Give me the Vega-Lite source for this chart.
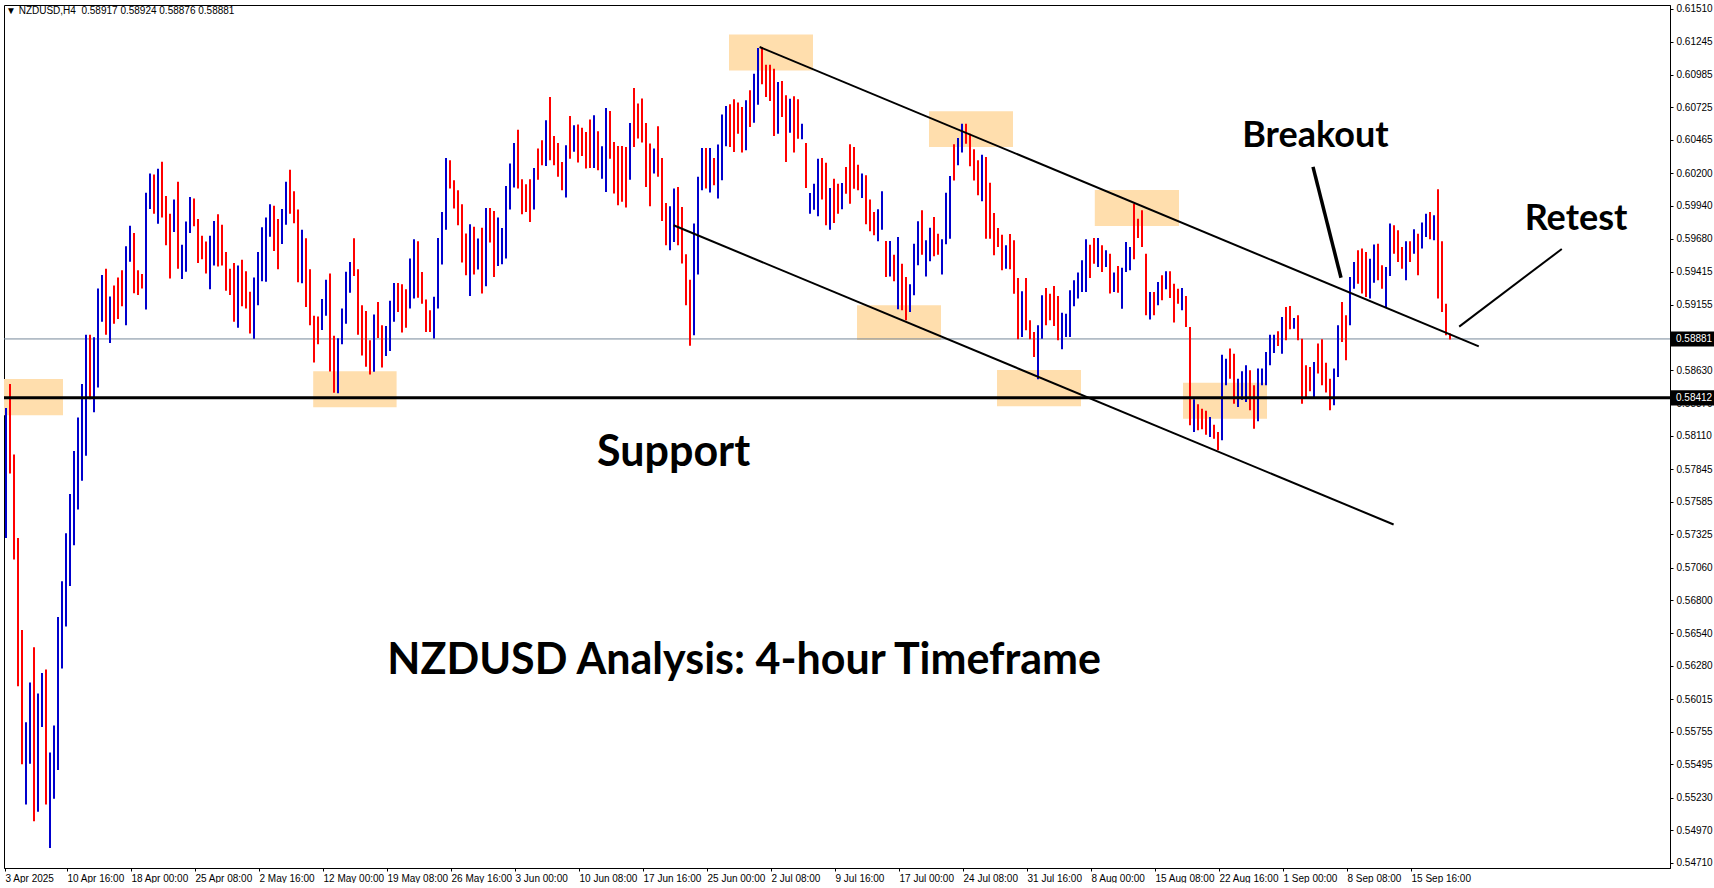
{
"$schema":"https://vega.github.io/schema/vega-lite/v6.json",
"width":1666,"height":863,
"padding":{"left":2,"top":3,"right":0,"bottom":0},
"autosize":{"type":"pad"},
"background":"white",
"config":{"view":{"stroke":"black","strokeWidth":1},"axis":{"labelFont":"Liberation Sans","labelFontSize":10,"labelColor":"black","domainColor":"black","tickColor":"black","grid":false,"labelOverlap":false,"labelFlush":false}},
"datasets":{
"bars":[
{"i":0,"h":0.58331,"l":0.57296,"d":"u"},{"i":1,"h":0.58522,"l":0.5781,"d":"d"},{"i":2,"h":0.57962,"l":0.57125,"d":"d"},{"i":3,"h":0.57296,"l":0.56116,"d":"d"},{"i":4,"h":0.56565,"l":0.55495,"d":"d"},{"i":5,"h":0.5583,"l":0.55175,"d":"u"},{"i":6,"h":0.56146,"l":0.55499,"d":"u"},{"i":7,"h":0.56428,"l":0.55042,"d":"d"},{"i":8,"h":0.56059,"l":0.55118,"d":"u"},{"i":9,"h":0.56222,"l":0.55792,"d":"u"},
{"i":10,"h":0.56249,"l":0.55175,"d":"d"},{"i":11,"h":0.5559,"l":0.54829,"d":"u"},{"i":12,"h":0.55804,"l":0.55221,"d":"u"},{"i":13,"h":0.56668,"l":0.5545,"d":"u"},{"i":14,"h":0.56953,"l":0.56257,"d":"u"},{"i":15,"h":0.57334,"l":0.56592,"d":"u"},{"i":16,"h":0.57646,"l":0.56915,"d":"u"},{"i":17,"h":0.57989,"l":0.57239,"d":"u"},{"i":18,"h":0.58255,"l":0.57524,"d":"u"},{"i":19,"h":0.58522,"l":0.57753,"d":"u"},
{"i":20,"h":0.58914,"l":0.57951,"d":"u"},{"i":21,"h":0.58914,"l":0.584,"d":"d"},{"i":22,"h":0.58895,"l":0.58297,"d":"u"},{"i":23,"h":0.59283,"l":0.58495,"d":"u"},{"i":24,"h":0.5939,"l":0.59017,"d":"u"},{"i":25,"h":0.59439,"l":0.58914,"d":"d"},{"i":26,"h":0.59218,"l":0.58849,"d":"u"},{"i":27,"h":0.59306,"l":0.59001,"d":"d"},{"i":28,"h":0.59371,"l":0.5904,"d":"d"},{"i":29,"h":0.59428,"l":0.59142,"d":"d"},
{"i":30,"h":0.59618,"l":0.5899,"d":"u"},{"i":31,"h":0.59782,"l":0.59496,"d":"u"},{"i":32,"h":0.59725,"l":0.59245,"d":"d"},{"i":33,"h":0.59428,"l":0.5923,"d":"d"},{"i":34,"h":0.59397,"l":0.59283,"d":"d"},{"i":35,"h":0.60045,"l":0.59116,"d":"u"},{"i":36,"h":0.60197,"l":0.59915,"d":"u"},{"i":37,"h":0.60189,"l":0.59877,"d":"d"},{"i":38,"h":0.60235,"l":0.59797,"d":"u"},{"i":39,"h":0.60292,"l":0.59847,"d":"d"},
{"i":40,"h":0.60018,"l":0.59626,"d":"d"},{"i":41,"h":0.59877,"l":0.59363,"d":"d"},{"i":42,"h":0.59991,"l":0.59732,"d":"u"},{"i":43,"h":0.60132,"l":0.59439,"d":"d"},{"i":44,"h":0.5963,"l":0.59359,"d":"u"},{"i":45,"h":0.59816,"l":0.59416,"d":"u"},{"i":46,"h":0.6001,"l":0.59725,"d":"u"},{"i":47,"h":0.59999,"l":0.59778,"d":"d"},{"i":48,"h":0.59835,"l":0.59485,"d":"d"},{"i":49,"h":0.59702,"l":0.59515,"d":"d"},
{"i":50,"h":0.59656,"l":0.59401,"d":"d"},{"i":51,"h":0.59702,"l":0.59276,"d":"u"},{"i":52,"h":0.5982,"l":0.59466,"d":"u"},{"i":53,"h":0.59873,"l":0.59458,"d":"d"},{"i":54,"h":0.5979,"l":0.59466,"d":"d"},{"i":55,"h":0.59573,"l":0.59264,"d":"d"},{"i":56,"h":0.59439,"l":0.5923,"d":"d"},{"i":57,"h":0.59485,"l":0.59017,"d":"d"},{"i":58,"h":0.59466,"l":0.58971,"d":"u"},{"i":59,"h":0.59512,"l":0.59142,"d":"d"},
{"i":60,"h":0.5942,"l":0.59123,"d":"d"},{"i":61,"h":0.59257,"l":0.58925,"d":"d"},{"i":62,"h":0.59371,"l":0.58883,"d":"u"},{"i":63,"h":0.59573,"l":0.5915,"d":"u"},{"i":64,"h":0.59771,"l":0.5934,"d":"u"},{"i":65,"h":0.59847,"l":0.59336,"d":"u"},{"i":66,"h":0.59953,"l":0.59694,"d":"u"},{"i":67,"h":0.59942,"l":0.5958,"d":"d"},{"i":68,"h":0.59835,"l":0.59435,"d":"d"},{"i":69,"h":0.59915,"l":0.59637,"d":"u"},
{"i":70,"h":0.60132,"l":0.5979,"d":"u"},{"i":71,"h":0.60227,"l":0.59877,"d":"d"},{"i":72,"h":0.60056,"l":0.59801,"d":"d"},{"i":73,"h":0.59911,"l":0.59333,"d":"d"},{"i":74,"h":0.59751,"l":0.59325,"d":"u"},{"i":75,"h":0.59683,"l":0.59135,"d":"d"},{"i":76,"h":0.59435,"l":0.5899,"d":"d"},{"i":77,"h":0.59066,"l":0.58693,"d":"d"},{"i":78,"h":0.59059,"l":0.58838,"d":"d"},{"i":79,"h":0.59199,"l":0.58952,"d":"u"},
{"i":80,"h":0.59352,"l":0.59066,"d":"u"},{"i":81,"h":0.59401,"l":0.58621,"d":"d"},{"i":82,"h":0.58906,"l":0.58453,"d":"d"},{"i":83,"h":0.58887,"l":0.58449,"d":"u"},{"i":84,"h":0.59123,"l":0.58838,"d":"u"},{"i":85,"h":0.59416,"l":0.59001,"d":"u"},{"i":86,"h":0.59493,"l":0.59249,"d":"u"},{"i":87,"h":0.59683,"l":0.59382,"d":"d"},{"i":88,"h":0.59435,"l":0.58914,"d":"d"},{"i":89,"h":0.5915,"l":0.5875,"d":"d"},
{"i":90,"h":0.59104,"l":0.58659,"d":"d"},{"i":91,"h":0.5887,"l":0.58598,"d":"d"},{"i":92,"h":0.59075,"l":0.58619,"d":"u"},{"i":93,"h":0.59176,"l":0.58889,"d":"d"},{"i":94,"h":0.5899,"l":0.58653,"d":"d"},{"i":95,"h":0.58985,"l":0.58746,"d":"u"},{"i":96,"h":0.59184,"l":0.58786,"d":"u"},{"i":97,"h":0.59327,"l":0.59017,"d":"u"},{"i":98,"h":0.59327,"l":0.59096,"d":"d"},{"i":99,"h":0.59316,"l":0.58932,"d":"d"},
{"i":100,"h":0.59277,"l":0.58971,"d":"d"},{"i":101,"h":0.59521,"l":0.59123,"d":"u"},{"i":102,"h":0.59674,"l":0.59202,"d":"u"},{"i":103,"h":0.59659,"l":0.59208,"d":"d"},{"i":104,"h":0.59414,"l":0.59162,"d":"d"},{"i":105,"h":0.59194,"l":0.58937,"d":"d"},{"i":106,"h":0.59109,"l":0.58937,"d":"d"},{"i":107,"h":0.59216,"l":0.58884,"d":"u"},{"i":108,"h":0.59685,"l":0.59123,"d":"u"},{"i":109,"h":0.59892,"l":0.59473,"d":"u"},
{"i":110,"h":0.60322,"l":0.59751,"d":"u"},{"i":111,"h":0.60303,"l":0.60078,"d":"d"},{"i":112,"h":0.60144,"l":0.59919,"d":"d"},{"i":113,"h":0.60064,"l":0.59786,"d":"d"},{"i":114,"h":0.59953,"l":0.59489,"d":"d"},{"i":115,"h":0.5972,"l":0.59388,"d":"d"},{"i":116,"h":0.59794,"l":0.59223,"d":"u"},{"i":117,"h":0.59773,"l":0.59393,"d":"d"},{"i":118,"h":0.5968,"l":0.59433,"d":"u"},{"i":119,"h":0.59767,"l":0.59242,"d":"d"},
{"i":120,"h":0.59924,"l":0.593,"d":"u"},{"i":121,"h":0.59924,"l":0.59648,"d":"d"},{"i":122,"h":0.599,"l":0.59375,"d":"d"},{"i":123,"h":0.59847,"l":0.59462,"d":"u"},{"i":124,"h":0.59765,"l":0.59475,"d":"u"},{"i":125,"h":0.60099,"l":0.59521,"d":"u"},{"i":126,"h":0.60277,"l":0.59911,"d":"u"},{"i":127,"h":0.60441,"l":0.60086,"d":"u"},{"i":128,"h":0.60547,"l":0.60078,"d":"d"},{"i":129,"h":0.60152,"l":0.59873,"d":"d"},
{"i":130,"h":0.60112,"l":0.59892,"d":"d"},{"i":131,"h":0.60152,"l":0.59812,"d":"d"},{"i":132,"h":0.60242,"l":0.59911,"d":"u"},{"i":133,"h":0.60396,"l":0.60149,"d":"d"},{"i":134,"h":0.60462,"l":0.60263,"d":"d"},{"i":135,"h":0.60622,"l":0.60258,"d":"u"},{"i":136,"h":0.60807,"l":0.60303,"d":"d"},{"i":137,"h":0.60497,"l":0.60263,"d":"d"},{"i":138,"h":0.60441,"l":0.60171,"d":"d"},{"i":139,"h":0.6029,"l":0.60064,"d":"d"},
{"i":140,"h":0.60423,"l":0.60006,"d":"u"},{"i":141,"h":0.60656,"l":0.60316,"d":"d"},{"i":142,"h":0.60582,"l":0.6037,"d":"u"},{"i":143,"h":0.60587,"l":0.60285,"d":"d"},{"i":144,"h":0.60561,"l":0.60338,"d":"d"},{"i":145,"h":0.60529,"l":0.60237,"d":"d"},{"i":146,"h":0.60627,"l":0.60242,"d":"d"},{"i":147,"h":0.60661,"l":0.60242,"d":"u"},{"i":148,"h":0.60534,"l":0.60224,"d":"d"},{"i":149,"h":0.60415,"l":0.60157,"d":"u"},
{"i":150,"h":0.6072,"l":0.60051,"d":"u"},{"i":151,"h":0.60696,"l":0.60316,"d":"d"},{"i":152,"h":0.60449,"l":0.60038,"d":"d"},{"i":153,"h":0.60417,"l":0.59945,"d":"d"},{"i":154,"h":0.60417,"l":0.59972,"d":"d"},{"i":155,"h":0.60409,"l":0.59927,"d":"d"},{"i":156,"h":0.606,"l":0.60149,"d":"u"},{"i":157,"h":0.60879,"l":0.60409,"d":"d"},{"i":158,"h":0.60754,"l":0.60476,"d":"d"},{"i":159,"h":0.60794,"l":0.60444,"d":"d"},
{"i":160,"h":0.606,"l":0.60091,"d":"d"},{"i":161,"h":0.60436,"l":0.59937,"d":"d"},{"i":162,"h":0.60396,"l":0.60197,"d":"u"},{"i":163,"h":0.60574,"l":0.60171,"d":"d"},{"i":164,"h":0.60322,"l":0.5982,"d":"d"},{"i":165,"h":0.59964,"l":0.59627,"d":"d"},{"i":166,"h":0.59937,"l":0.59587,"d":"u"},{"i":167,"h":0.60078,"l":0.59653,"d":"u"},{"i":168,"h":0.60091,"l":0.59627,"d":"d"},{"i":169,"h":0.59932,"l":0.59481,"d":"d"},
{"i":170,"h":0.59555,"l":0.59149,"d":"d"},{"i":171,"h":0.59353,"l":0.58826,"d":"d"},{"i":172,"h":0.59799,"l":0.5891,"d":"u"},{"i":173,"h":0.60171,"l":0.59393,"d":"u"},{"i":174,"h":0.60401,"l":0.60064,"d":"u"},{"i":175,"h":0.60401,"l":0.60078,"d":"d"},{"i":176,"h":0.60401,"l":0.60046,"d":"u"},{"i":177,"h":0.60322,"l":0.60104,"d":"d"},{"i":178,"h":0.60428,"l":0.59998,"d":"u"},{"i":179,"h":0.60667,"l":0.60144,"d":"u"},
{"i":180,"h":0.60736,"l":0.60415,"d":"u"},{"i":181,"h":0.60749,"l":0.60409,"d":"d"},{"i":182,"h":0.60788,"l":0.60369,"d":"d"},{"i":183,"h":0.60762,"l":0.60515,"d":"d"},{"i":184,"h":0.60727,"l":0.60364,"d":"d"},{"i":185,"h":0.6078,"l":0.60382,"d":"u"},{"i":186,"h":0.6086,"l":0.60568,"d":"d"},{"i":187,"h":0.60992,"l":0.60602,"d":"u"},{"i":188,"h":0.61197,"l":0.60746,"d":"u"},{"i":189,"h":0.61205,"l":0.60908,"d":"d"},
{"i":190,"h":0.61064,"l":0.60807,"d":"d"},{"i":191,"h":0.61064,"l":0.60775,"d":"d"},{"i":192,"h":0.61032,"l":0.60496,"d":"d"},{"i":193,"h":0.60926,"l":0.60515,"d":"u"},{"i":194,"h":0.60934,"l":0.60648,"d":"d"},{"i":195,"h":0.6082,"l":0.60289,"d":"d"},{"i":196,"h":0.60793,"l":0.60523,"d":"u"},{"i":197,"h":0.60812,"l":0.60364,"d":"d"},{"i":198,"h":0.60788,"l":0.60475,"d":"d"},{"i":199,"h":0.60594,"l":0.6047,"d":"u"},
{"i":200,"h":0.60441,"l":0.60082,"d":"d"},{"i":201,"h":0.60043,"l":0.59878,"d":"u"},{"i":202,"h":0.60117,"l":0.5991,"d":"u"},{"i":203,"h":0.60316,"l":0.59857,"d":"u"},{"i":204,"h":0.60321,"l":0.5999,"d":"d"},{"i":205,"h":0.60284,"l":0.59785,"d":"d"},{"i":206,"h":0.60082,"l":0.59751,"d":"u"},{"i":207,"h":0.60157,"l":0.59804,"d":"d"},{"i":208,"h":0.60117,"l":0.59878,"d":"d"},{"i":209,"h":0.60122,"l":0.59913,"d":"u"},
{"i":210,"h":0.6025,"l":0.60037,"d":"d"},{"i":211,"h":0.6043,"l":0.59958,"d":"d"},{"i":212,"h":0.60409,"l":0.60077,"d":"d"},{"i":213,"h":0.60268,"l":0.60064,"d":"d"},{"i":214,"h":0.60197,"l":0.60003,"d":"u"},{"i":215,"h":0.60183,"l":0.59793,"d":"d"},{"i":216,"h":0.5999,"l":0.59738,"d":"d"},{"i":217,"h":0.59891,"l":0.59706,"d":"d"},{"i":218,"h":0.59913,"l":0.59658,"d":"u"},{"i":219,"h":0.60056,"l":0.59751,"d":"u"},
{"i":220,"h":0.59661,"l":0.59374,"d":"d"},{"i":221,"h":0.59661,"l":0.59379,"d":"u"},{"i":222,"h":0.59552,"l":0.5934,"d":"d"},{"i":223,"h":0.59692,"l":0.59117,"d":"u"},{"i":224,"h":0.5948,"l":0.59109,"d":"d"},{"i":225,"h":0.59374,"l":0.59029,"d":"d"},{"i":226,"h":0.59316,"l":0.59096,"d":"u"},{"i":227,"h":0.59639,"l":0.59228,"d":"u"},{"i":228,"h":0.59817,"l":0.59467,"d":"u"},{"i":229,"h":0.59905,"l":0.59552,"d":"d"},
{"i":230,"h":0.59666,"l":0.59379,"d":"u"},{"i":231,"h":0.59767,"l":0.59499,"d":"u"},{"i":232,"h":0.59852,"l":0.59539,"d":"d"},{"i":233,"h":0.59719,"l":0.59552,"d":"d"},{"i":234,"h":0.59674,"l":0.59393,"d":"u"},{"i":235,"h":0.60045,"l":0.59634,"d":"u"},{"i":236,"h":0.60178,"l":0.59679,"d":"u"},{"i":237,"h":0.6043,"l":0.60143,"d":"d"},{"i":238,"h":0.6048,"l":0.60263,"d":"u"},{"i":239,"h":0.60594,"l":0.60364,"d":"u"},
{"i":240,"h":0.60594,"l":0.60435,"d":"d"},{"i":241,"h":0.60515,"l":0.60255,"d":"d"},{"i":242,"h":0.6039,"l":0.60143,"d":"d"},{"i":243,"h":0.60303,"l":0.60024,"d":"d"},{"i":244,"h":0.60348,"l":0.59976,"d":"u"},{"i":245,"h":0.60329,"l":0.59679,"d":"d"},{"i":246,"h":0.60125,"l":0.59679,"d":"d"},{"i":247,"h":0.59883,"l":0.59547,"d":"d"},{"i":248,"h":0.59764,"l":0.59613,"d":"d"},{"i":249,"h":0.59711,"l":0.59427,"d":"d"},
{"i":250,"h":0.59626,"l":0.5944,"d":"u"},{"i":251,"h":0.59716,"l":0.59435,"d":"d"},{"i":252,"h":0.59666,"l":0.59241,"d":"d"},{"i":253,"h":0.59366,"l":0.58878,"d":"d"},{"i":254,"h":0.5926,"l":0.58897,"d":"u"},{"i":255,"h":0.59366,"l":0.5895,"d":"d"},{"i":256,"h":0.59029,"l":0.58878,"d":"d"},{"i":257,"h":0.58936,"l":0.58737,"d":"d"},{"i":258,"h":0.58989,"l":0.5856,"d":"u"},{"i":259,"h":0.59228,"l":0.58883,"d":"u"},
{"i":260,"h":0.59287,"l":0.58989,"d":"d"},{"i":261,"h":0.59241,"l":0.59029,"d":"d"},{"i":262,"h":0.59302,"l":0.58984,"d":"d"},{"i":263,"h":0.59223,"l":0.5887,"d":"d"},{"i":264,"h":0.5909,"l":0.58798,"d":"u"},{"i":265,"h":0.59082,"l":0.58897,"d":"u"},{"i":266,"h":0.59268,"l":0.58897,"d":"u"},{"i":267,"h":0.59348,"l":0.59141,"d":"u"},{"i":268,"h":0.59409,"l":0.59202,"d":"u"},{"i":269,"h":0.59507,"l":0.59255,"d":"u"},
{"i":270,"h":0.59674,"l":0.59255,"d":"u"},{"i":271,"h":0.59631,"l":0.59366,"d":"d"},{"i":272,"h":0.59685,"l":0.5948,"d":"d"},{"i":273,"h":0.59685,"l":0.59454,"d":"u"},{"i":274,"h":0.59626,"l":0.59414,"d":"d"},{"i":275,"h":0.59586,"l":0.59454,"d":"u"},{"i":276,"h":0.5956,"l":0.59242,"d":"d"},{"i":277,"h":0.59409,"l":0.59255,"d":"u"},{"i":278,"h":0.59462,"l":0.59249,"d":"d"},{"i":279,"h":0.59448,"l":0.59122,"d":"u"},
{"i":280,"h":0.59653,"l":0.59414,"d":"u"},{"i":281,"h":0.59613,"l":0.59427,"d":"u"},{"i":282,"h":0.59958,"l":0.59515,"d":"d"},{"i":283,"h":0.59838,"l":0.59685,"d":"d"},{"i":284,"h":0.59905,"l":0.59613,"d":"d"},{"i":285,"h":0.5956,"l":0.59069,"d":"d"},{"i":286,"h":0.59255,"l":0.59035,"d":"u"},{"i":287,"h":0.59255,"l":0.59069,"d":"d"},{"i":288,"h":0.59334,"l":0.59149,"d":"u"},{"i":289,"h":0.59387,"l":0.59188,"d":"d"},
{"i":290,"h":0.59419,"l":0.59276,"d":"u"},{"i":291,"h":0.59419,"l":0.59207,"d":"d"},{"i":292,"h":0.59321,"l":0.59011,"d":"d"},{"i":293,"h":0.59281,"l":0.59162,"d":"d"},{"i":294,"h":0.59287,"l":0.59109,"d":"u"},{"i":295,"h":0.59223,"l":0.58976,"d":"d"},{"i":296,"h":0.58976,"l":0.58194,"d":"d"},{"i":297,"h":0.58401,"l":0.58141,"d":"u"},{"i":298,"h":0.58361,"l":0.58154,"d":"d"},{"i":299,"h":0.58326,"l":0.58162,"d":"d"},
{"i":300,"h":0.5831,"l":0.58119,"d":"d"},{"i":301,"h":0.5826,"l":0.58101,"d":"u"},{"i":302,"h":0.58199,"l":0.58087,"d":"d"},{"i":303,"h":0.58141,"l":0.57995,"d":"d"},{"i":304,"h":0.58756,"l":0.58074,"d":"u"},{"i":305,"h":0.58724,"l":0.58512,"d":"u"},{"i":306,"h":0.58804,"l":0.58565,"d":"d"},{"i":307,"h":0.58764,"l":0.58366,"d":"d"},{"i":308,"h":0.58565,"l":0.5834,"d":"u"},{"i":309,"h":0.58623,"l":0.58398,"d":"u"},
{"i":310,"h":0.58671,"l":0.58379,"d":"u"},{"i":311,"h":0.58631,"l":0.58313,"d":"d"},{"i":312,"h":0.58512,"l":0.58167,"d":"d"},{"i":313,"h":0.58645,"l":0.58225,"d":"u"},{"i":314,"h":0.58645,"l":0.58512,"d":"u"},{"i":315,"h":0.58777,"l":0.58512,"d":"u"},{"i":316,"h":0.58915,"l":0.58671,"d":"u"},{"i":317,"h":0.58915,"l":0.58769,"d":"u"},{"i":318,"h":0.58942,"l":0.58825,"d":"d"},{"i":319,"h":0.59056,"l":0.58764,"d":"u"},
{"i":320,"h":0.59135,"l":0.5887,"d":"d"},{"i":321,"h":0.59143,"l":0.58958,"d":"d"},{"i":322,"h":0.59048,"l":0.58963,"d":"u"},{"i":323,"h":0.59069,"l":0.5887,"d":"d"},{"i":324,"h":0.58883,"l":0.58366,"d":"d"},{"i":325,"h":0.58671,"l":0.58406,"d":"d"},{"i":326,"h":0.58658,"l":0.58464,"d":"d"},{"i":327,"h":0.58698,"l":0.58406,"d":"u"},{"i":328,"h":0.58844,"l":0.58605,"d":"d"},{"i":329,"h":0.58878,"l":0.58512,"d":"d"},
{"i":330,"h":0.58692,"l":0.58454,"d":"d"},{"i":331,"h":0.58565,"l":0.58313,"d":"d"},{"i":332,"h":0.58645,"l":0.58353,"d":"u"},{"i":333,"h":0.58989,"l":0.58578,"d":"u"},{"i":334,"h":0.59175,"l":0.58857,"d":"d"},{"i":335,"h":0.59069,"l":0.58711,"d":"d"},{"i":336,"h":0.59374,"l":0.58989,"d":"u"},{"i":337,"h":0.59494,"l":0.59281,"d":"u"},{"i":338,"h":0.59586,"l":0.59321,"d":"d"},{"i":339,"h":0.596,"l":0.59242,"d":"d"},
{"i":340,"h":0.59573,"l":0.59215,"d":"d"},{"i":341,"h":0.5952,"l":0.59202,"d":"u"},{"i":342,"h":0.59632,"l":0.59329,"d":"u"},{"i":343,"h":0.59639,"l":0.59348,"d":"d"},{"i":344,"h":0.59467,"l":0.59281,"d":"d"},{"i":345,"h":0.59454,"l":0.59127,"d":"u"},{"i":346,"h":0.59799,"l":0.59382,"d":"u"},{"i":347,"h":0.59785,"l":0.5956,"d":"d"},{"i":348,"h":0.59746,"l":0.59494,"d":"d"},{"i":349,"h":0.59613,"l":0.5944,"d":"d"},
{"i":350,"h":0.59658,"l":0.59348,"d":"u"},{"i":351,"h":0.59658,"l":0.59494,"d":"d"},{"i":352,"h":0.59754,"l":0.5956,"d":"u"},{"i":353,"h":0.59719,"l":0.59387,"d":"d"},{"i":354,"h":0.59807,"l":0.596,"d":"u"},{"i":355,"h":0.59878,"l":0.59693,"d":"u"},{"i":356,"h":0.59892,"l":0.59674,"d":"d"},{"i":357,"h":0.59865,"l":0.59666,"d":"u"},{"i":358,"h":0.60072,"l":0.59202,"d":"d"},{"i":359,"h":0.59658,"l":0.59096,"d":"d"},
{"i":360,"h":0.59162,"l":0.5891,"d":"d"},{"i":361,"h":0.58924,"l":0.58876,"d":"d"}
],
"boxes":[
{"x1":-0.5,"x2":14.25,"p1":0.58563,"p2":0.58274},
{"x1":76.8,"x2":97.65,"p1":0.58624,"p2":0.58338},
{"x1":180.75,"x2":201.75,"p1":0.61304,"p2":0.61018},
{"x1":212.75,"x2":233.75,"p1":0.5915,"p2":0.58872},
{"x1":230.75,"x2":251.75,"p1":0.60694,"p2":0.60408},
{"x1":247.75,"x2":268.75,"p1":0.58633,"p2":0.58346},
{"x1":272.2,"x2":293.25,"p1":0.60066,"p2":0.59779},
{"x1":294.25,"x2":315.25,"p1":0.58532,"p2":0.58245}
],
"bid":[{"p":0.58881}],
"support":[{"p":0.58412}],
"channel":[
{"x1":188.4,"p1":0.61205,"x2":368.2,"p2":0.58822},
{"x1":166.9,"p1":0.59786,"x2":346.9,"p2":0.57404}
],
"breakout":[{"x1":326.75,"p1":0.6025,"x2":333.75,"p2":0.59368}],
"retest":[{"x1":363.3,"p1":0.58979,"x2":388.95,"p2":0.59597}],
"bigtext":[
{"x":166.9,"p":0.57866,"t":"Support"},
{"x":184.55,"p":0.56213,"t":"NZDUSD Analysis: 4-hour Timeframe"}
],
"midtext":[
{"x":327.35,"p":0.60405,"t":"Breakout"},
{"x":392.5,"p":0.59745,"t":"Retest"}
],
"header":[{"x":0,"p":0.61467,"t":"▼ NZDUSD,H4\u00a0 0.58917 0.58924 0.58876 0.58881"}],
"marks":[
{"v":"0.58881","p":0.58881,"p1":0.58941,"p2":0.58821,"x1":416.25,"x2":427,"xt":417.5},
{"v":"0.58412","p":0.58412,"p1":0.58472,"p2":0.58352,"x1":416.25,"x2":427,"xt":417.5}
]
},
"layer":[
{"data":{"name":"boxes"},"mark":{"type":"rect","color":"#ffdead"},
 "encoding":{"x":{"field":"x1","type":"quantitative","title":null},"x2":{"field":"x2"},"y":{"field":"p1","type":"quantitative","title":null},"y2":{"field":"p2"}}},
{"data":{"name":"bid"},"mark":{"type":"rule","color":"#778899","strokeWidth":1},"encoding":{"y":{"field":"p","type":"quantitative","title":null}}},
{"data":{"name":"bars"},"mark":{"type":"rule","strokeWidth":2},
 "encoding":{"x":{"field":"i","type":"quantitative","title":null,"scale":{"domain":[-0.5,416],"nice":false,"zero":false},
   "axis":{"orient":"bottom","title":null,"tickCount":100,"values":[-0.25,15.25,31.25,47.25,63.25,79.25,95.25,111.25,127.25,143.25,159.25,175.25,191.25,207.25,223.25,239.25,255.25,271.25,287.25,303.25,319.25,335.25,351.25],
   "labelExpr":"['3 Apr 2025','10 Apr 16:00','18 Apr 00:00','25 Apr 08:00','2 May 16:00','12 May 00:00','19 May 08:00','26 May 16:00','3 Jun 00:00','10 Jun 08:00','17 Jun 16:00','25 Jun 00:00','2 Jul 08:00','9 Jul 16:00','17 Jul 00:00','24 Jul 08:00','31 Jul 16:00','8 Aug 00:00','15 Aug 08:00','22 Aug 16:00','1 Sep 00:00','8 Sep 08:00','15 Sep 16:00'][round((datum.value+0.75)/16)]",
   "labelAlign":"left","labelDx":1,"tickSize":3,"labelPadding":2,"labelBaseline":"top","labelOverlap":false,"labelFlush":false}},
  "y":{"field":"h","type":"quantitative","title":null,"scale":{"domain":[0.5467,0.61539],"nice":false,"zero":false},
   "axis":{"orient":"right","title":null,"tickCount":100,"values":[0.6151,0.61245,0.60985,0.60725,0.60465,0.602,0.5994,0.5968,0.59415,0.59155,0.5863,0.5837,0.5811,0.57845,0.57585,0.57325,0.5706,0.568,0.5654,0.5628,0.56015,0.55755,0.55495,0.5523,0.5497,0.5471],
   "format":".5f","tickSize":3,"labelPadding":3,"labelAlign":"left","labelBaseline":"middle","labelOverlap":false,"labelFlush":false}},
  "y2":{"field":"l"},
  "color":{"field":"d","type":"nominal","scale":{"domain":["u","d"],"range":["#0000cd","#ff0000"]},"legend":null}}},
{"data":{"name":"support"},"mark":{"type":"rule","color":"black","strokeWidth":3},"encoding":{"y":{"field":"p","type":"quantitative","title":null}}},
{"data":{"name":"channel"},"mark":{"type":"rule","color":"black","strokeWidth":2},
 "encoding":{"x":{"field":"x1","type":"quantitative","title":null},"x2":{"field":"x2"},"y":{"field":"p1","type":"quantitative","title":null},"y2":{"field":"p2"}}},
{"data":{"name":"breakout"},"mark":{"type":"rule","color":"black","strokeWidth":3.5},
 "encoding":{"x":{"field":"x1","type":"quantitative","title":null},"x2":{"field":"x2"},"y":{"field":"p1","type":"quantitative","title":null},"y2":{"field":"p2"}}},
{"data":{"name":"retest"},"mark":{"type":"rule","color":"black","strokeWidth":2},
 "encoding":{"x":{"field":"x1","type":"quantitative","title":null},"x2":{"field":"x2"},"y":{"field":"p1","type":"quantitative","title":null},"y2":{"field":"p2"}}},
{"data":{"name":"bigtext"},"mark":{"type":"text","font":"Lato","fontWeight":"bold","fontSize":43,"color":"black","align":"center","baseline":"alphabetic"},
 "encoding":{"x":{"field":"x","type":"quantitative","title":null},"y":{"field":"p","type":"quantitative","title":null},"text":{"field":"t"}}},
{"data":{"name":"midtext"},"mark":{"type":"text","font":"Lato","fontWeight":"bold","fontSize":36,"color":"black","align":"center","baseline":"alphabetic"},
 "encoding":{"x":{"field":"x","type":"quantitative","title":null},"y":{"field":"p","type":"quantitative","title":null},"text":{"field":"t"}}},
{"data":{"name":"header"},"mark":{"type":"text","font":"Liberation Sans","fontSize":10,"color":"black","align":"left","baseline":"alphabetic"},
 "encoding":{"x":{"field":"x","type":"quantitative","title":null},"y":{"field":"p","type":"quantitative","title":null},"text":{"field":"t"}}},
{"data":{"name":"marks"},"mark":{"type":"rect","color":"black"},
 "encoding":{"x":{"field":"x1","type":"quantitative","title":null},"x2":{"field":"x2"},"y":{"field":"p1","type":"quantitative","title":null},"y2":{"field":"p2"}}},
{"data":{"name":"marks"},"mark":{"type":"text","font":"Liberation Sans","fontSize":10,"color":"white","align":"left","baseline":"middle"},
 "encoding":{"x":{"field":"xt","type":"quantitative","title":null},"y":{"field":"p","type":"quantitative","title":null},"text":{"field":"v"}}}
]
}
